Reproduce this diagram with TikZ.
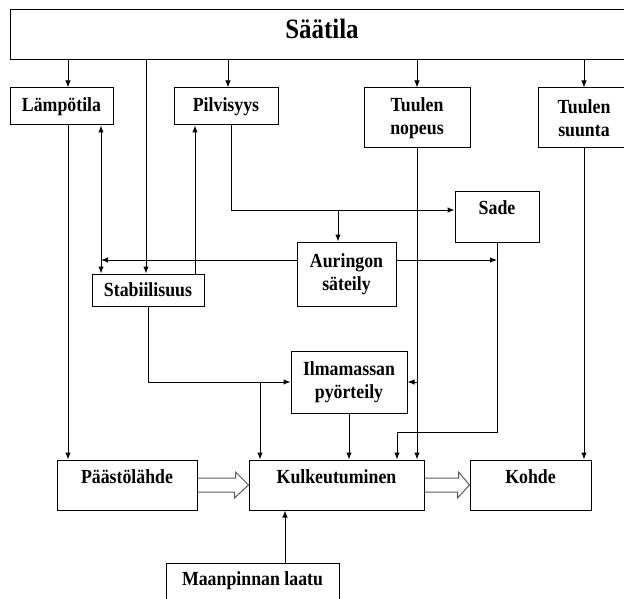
\documentclass[tikz,border=0pt]{standalone}
\usepackage{fontspec}
\setmainfont{Liberation Serif}[FakeStretch=0.89]
\usepackage{tikz}
\usetikzlibrary{arrows.meta}

\begin{document}
\begin{tikzpicture}[x=1pt, y=-1pt, >={Latex[length=7pt,width=5.5pt]},
		box/.style = {draw, line width=1pt, align=center, inner sep=0pt, font=\fontsize{20}{23}\selectfont\bfseries},
		upper/.style = {text height=14pt, text depth=18pt},
		link/.style = {line width=1pt},
		fat/.style = {draw=black!65, line width=1pt}]
		\useasboundingbox (0,0) rectangle (624,599);
		\node[box, minimum width=624pt, minimum height=50pt, text height=19pt, text depth=11pt, font=\fontsize{28}{30}\selectfont\bfseries] (saa) at (322,35) {Säätila};
		\node[box, minimum width=103pt, minimum height=37pt] (lam) at (61.5,106.5) {Lämpötila};
		\node[box, minimum width=104pt, minimum height=37pt] (pil) at (226,106.5) {Pilvisyys};
		\node[box, minimum width=106pt, minimum height=60pt] (tnop) at (417,118) {Tuulen\\nopeus};
		\node[box, minimum width=92pt, minimum height=60pt] (tsuu) at (584,118) {Tuulen\\suunta};
		\node[box, upper, minimum width=84pt, minimum height=51pt] (sade) at (497,216.5) {Sade};
		\node[box, minimum width=99pt, minimum height=64pt] (aur) at (346.5,274) {Auringon\\säteily};
		\node[box, minimum width=112pt, minimum height=32pt] (stab) at (148,290) {Stabiilisuus};
		\node[box, minimum width=116pt, minimum height=62pt] (ilm) at (349,382) {Ilmamassan\\pyörteily};
		\node[box, upper, minimum width=140pt, minimum height=50pt] (pl) at (127,485) {Päästölähde};
		\node[box, upper, minimum width=175pt, minimum height=50pt] (kul) at (336.5,485) {Kulkeutuminen};
		\node[box, upper, minimum width=121pt, minimum height=50pt] (koh) at (530.5,485) {Kohde};
		\node[box, minimum width=173pt, minimum height=36pt] (maa) at (252.5,581) {Maanpinnan laatu};

		\coordinate (lamtop) at ([xshift=6.5pt]lam.north);
		\coordinate (lambot) at ([xshift=6.5pt]lam.south);
		\coordinate (lamret) at ([xshift=39.5pt]lam.south);
		\coordinate (stabin) at ([xshift=-2pt]stab.north);
		\coordinate (stabout) at ([xshift=47pt]stab.north);
		\coordinate (piltop) at ([xshift=2pt]pil.north);
		\coordinate (pilbot) at ([xshift=5pt]pil.south);
		\coordinate (sadein) at ([yshift=6.5pt]sade.west);
		\coordinate (aurtop) at ([xshift=-8.5pt]aur.north);
		\coordinate (aurl) at ([yshift=14pt]aur.west);
		\coordinate (aurr) at ([yshift=14pt]aur.east);
		\coordinate (kulin1) at ([xshift=-76.5pt]kul.north);
		\coordinate (kulin3) at ([xshift=60.5pt]kul.north);
		\coordinate (maatop) at ([xshift=32.5pt]maa.north);

		\draw[link, ->] (saa.south -| lamtop) -- (lamtop);
		\draw[link, ->] (saa.south -| stabin) -- (stabin);
		\draw[link, ->] (saa.south -| piltop) -- (piltop);
		\draw[link, ->] (saa.south -| tnop.north) -- (tnop.north);
		\draw[link, ->] (saa.south -| tsuu.north) -- (tsuu.north);
		\draw[link, ->] (lambot) -- (lambot |- pl.north);
		\draw[link, <->] (lamret) -- (lamret |- stab.north);
		\draw[link, ->] (stabout) -- (stabout |- pil.south);
		\draw[link, ->] (pilbot) |- (sadein);
		\draw[link, ->] (aurtop |- sadein) -- (aurtop);
		\draw[link, ->] (aurl) -- (aurl -| lamret);
		\draw[link, ->] (aurr) -- (aurr -| sade.south);
		\draw[link, ->] (sade.south) -- ++(0,190) -| (kulin3);
		\draw[link, ->] (tnop.south) -- (tnop.south |- kul.north);
		\draw[link, ->] (tnop.south |- ilm.east) -- (ilm.east);
		\draw[link, ->] (tsuu.south) -- (tsuu.south |- koh.north);
		\draw[link, ->] (stab.south) |- (ilm.west);
		\draw[link, ->] (kulin1 |- ilm.west) -- (kulin1);
		\draw[link, ->] (ilm.south) -- (ilm.south |- kul.north);
		\draw[link, ->] (maatop) -- (maatop |- kul.south);

		\draw[fat] ([yshift=7pt]pl.east) -- ++(38,0) -- ++(0,-6) -- (kul.west) -- ([xshift=-14pt,yshift=-13pt]kul.west) -- ++(0,-6) -- ([yshift=-7pt]pl.east);
		\draw[fat] ([yshift=7pt]kul.east) -- ++(34,0) -- ++(0,-6) -- (koh.west) -- ([xshift=-12pt,yshift=-13pt]koh.west) -- ++(0,-6) -- ([yshift=-7pt]kul.east);
\end{tikzpicture}
\end{document}
